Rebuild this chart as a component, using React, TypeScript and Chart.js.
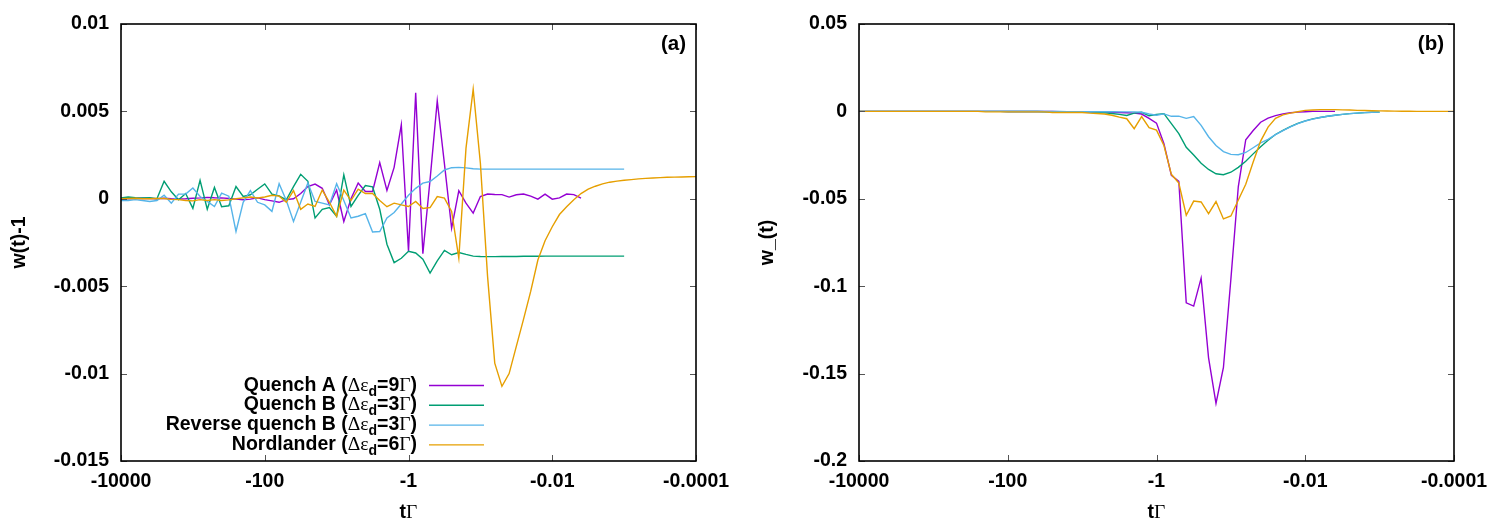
import { useEffect, useRef } from "react";
import { Chart, registerables } from "chart.js";

Chart.register(...registerables);

// Sampling times tΓ (log-spaced, 10 points per decade, from -10^4 to -10^-4)
const T_GRID = [
  -10000, -7943, -6310, -5012, -3981, -3162, -2512, -1995, -1585, -1259,
  -1000, -794.3, -631.0, -501.2, -398.1, -316.2, -251.2, -199.5, -158.5, -125.9,
  -100, -79.43, -63.10, -50.12, -39.81, -31.62, -25.12, -19.95, -15.85, -12.59,
  -10, -7.943, -6.310, -5.012, -3.981, -3.162, -2.512, -1.995, -1.585, -1.259,
  -1, -0.7943, -0.6310, -0.5012, -0.3981, -0.3162, -0.2512, -0.1995, -0.1585, -0.1259,
  -0.1, -0.07943, -0.06310, -0.05012, -0.03981, -0.03162, -0.02512, -0.01995, -0.01585, -0.01259,
  -0.01, -0.007943, -0.006310, -0.005012, -0.003981, -0.003162, -0.002512, -0.001995, -0.001585, -0.001259,
  -0.001, -0.0007943, -0.0006310, -0.0005012, -0.0003981, -0.0003162, -0.0002512, -0.0001995, -0.0001585, -0.0001259,
  -0.0001,
];

// Panel (a): w(t) - 1
const QA_W = [
  0, 0, 0.02e-3, 0.03e-3, 0.02e-3, 0, 0.03e-3, 0, -0.02e-3, 0,
  0.03e-3, 0.05e-3, 0.08e-3, 0.06e-3, 0.05e-3, 0.02e-3, -0.02e-3, -0.05e-3, -0.02e-3, 0.05e-3,
  -0.05e-3, -0.12e-3, -0.2e-3, -0.05e-3, 0, 0.3e-3, 0.7e-3, 0.84e-3, 0.6e-3, -0.35e-3,
  0.5e-3, -1.3e-3, 0, 0.9e-3, 0.42e-3, 0.42e-3, 2.07e-3, 0.48e-3, 1.8e-3, 4.23e-3,
  -3.0e-3, 6.07e-3, -3.14e-3, 1.1e-3, 5.6e-3, 2.0e-3, -1.68e-3, 0.46e-3, -0.25e-3, -0.82e-3,
  0.13e-3, 0.27e-3, 0.25e-3, 0.24e-3, 0.1e-3, 0.23e-3, 0.27e-3, 0.15e-3, -0.02e-3, 0.27e-3,
  -0.02e-3, 0.05e-3, 0.27e-3, 0.24e-3, 0.04e-3,
];
const QB_W = [
  0.05e-3, 0.1e-3, 0.06e-3, 0.05e-3, 0.06e-3, 0, 1.0e-3, 0.4e-3, -0.05e-3, 0.3e-3,
  -0.55e-3, 1.05e-3, -0.6e-3, 0.65e-3, -0.45e-3, -0.4e-3, 0.7e-3, 0.13e-3, 0.23e-3, 0.55e-3,
  0.85e-3, 0.27e-3, 0.17e-3, -0.06e-3, 0.7e-3, 1.4e-3, 1.0e-3, -1.1e-3, -0.6e-3, -0.5e-3,
  -1.0e-3, 1.37e-3, -0.44e-3, 0.2e-3, 0.76e-3, 0.68e-3, -0.6e-3, -2.6e-3, -3.65e-3, -3.4e-3,
  -3.0e-3, -3.1e-3, -3.45e-3, -4.25e-3, -3.55e-3, -2.95e-3, -3.2e-3, -3.07e-3, -3.18e-3, -3.28e-3,
  -3.3e-3, -3.31e-3, -3.31e-3, -3.3e-3, -3.3e-3, -3.3e-3, -3.29e-3, -3.29e-3, -3.29e-3, -3.28e-3,
  -3.28e-3, -3.28e-3, -3.28e-3, -3.28e-3, -3.28e-3, -3.28e-3, -3.28e-3, -3.28e-3, -3.28e-3, -3.28e-3,
  -3.28e-3,
];
const RQB_W = [
  -0.1e-3, -0.1e-3, -0.05e-3, -0.1e-3, -0.15e-3, -0.1e-3, 0.2e-3, -0.25e-3, 0.27e-3, 0.27e-3,
  0.62e-3, 0.13e-3, -0.15e-3, -0.44e-3, 0.32e-3, 0.15e-3, -1.87e-3, -0.2e-3, 0.47e-3, -0.2e-3,
  -0.35e-3, -0.72e-3, 0.86e-3, -0.1e-3, -1.3e-3, -0.2e-3, 0.9e-3, -0.15e-3, -0.25e-3, -0.35e-3,
  0.86e-3, -0.1e-3, -1.1e-3, -1.0e-3, -0.85e-3, -1.9e-3, -1.87e-3, -1.1e-3, -0.78e-3, -0.3e-3,
  0.2e-3, 0.6e-3, 0.9e-3, 0.99e-3, 1.3e-3, 1.65e-3, 1.78e-3, 1.8e-3, 1.77e-3, 1.72e-3,
  1.7e-3, 1.7e-3, 1.7e-3, 1.7e-3, 1.7e-3, 1.7e-3, 1.7e-3, 1.7e-3, 1.7e-3, 1.7e-3,
  1.7e-3, 1.7e-3, 1.7e-3, 1.7e-3, 1.7e-3, 1.7e-3, 1.7e-3, 1.7e-3, 1.7e-3, 1.7e-3,
  1.7e-3,
];
const NORD_W = [
  0, 0.02e-3, 0.03e-3, 0, 0, 0.02e-3, 0.02e-3, -0.03e-3, -0.05e-3, -0.1e-3,
  -0.12e-3, -0.05e-3, -0.1e-3, -0.05e-3, -0.1e-3, -0.06e-3, 0, 0.05e-3, 0.1e-3, 0.05e-3,
  0.1e-3, 0.2e-3, 0.15e-3, -0.2e-3, 0.47e-3, -0.6e-3, -0.3e-3, -0.44e-3, 0.5e-3, -0.2e-3,
  -1.0e-3, 0.5e-3, -0.1e-3, 0.55e-3, 0.3e-3, 0.3e-3, -0.1e-3, -0.45e-3, -0.25e-3, -0.35e-3,
  -0.44e-3, -0.15e-3, -0.55e-3, -0.5e-3, 0.13e-3, 0.04e-3, -0.72e-3, -3.39e-3, 2.9e-3, 6.27e-3,
  2.04e-3, -4.44e-3, -9.4e-3, -10.73e-3, -10.0e-3, -8.44e-3, -6.9e-3, -5.3e-3, -3.5e-3, -2.4e-3,
  -1.6e-3, -0.9e-3, -0.45e-3, -0.05e-3, 0.3e-3, 0.55e-3, 0.72e-3, 0.85e-3, 0.95e-3, 1.01e-3,
  1.06e-3, 1.1e-3, 1.14e-3, 1.17e-3, 1.19e-3, 1.21e-3, 1.23e-3, 1.24e-3, 1.25e-3, 1.26e-3,
  1.27e-3,
];

// Panel (b): w_(t)
const QA_WM = [
  0, 0, 0, 0, 0, 0, 0, 0, 0, 0,
  0, 0, 0, 0, 0, 0, 0, 0, 0, 0,
  -0.01e-2, -0.01e-2, -0.01e-2, -0.01e-2, -0.01e-2, -0.01e-2, -0.01e-2, -0.02e-2, -0.02e-2, -0.02e-2,
  -0.02e-2, -0.03e-2, -0.04e-2, -0.05e-2, -0.05e-2, -0.06e-2, -0.08e-2, -0.1e-2, -0.15e-2, -0.4e-2,
  -0.67e-2, -1.85e-2, -3.66e-2, -4.0e-2, -10.95e-2, -11.14e-2, -9.54e-2, -14.1e-2, -16.7e-2, -14.65e-2,
  -9.6e-2, -4.3e-2, -1.62e-2, -1.09e-2, -0.62e-2, -0.38e-2, -0.24e-2, -0.14e-2, -0.08e-2, -0.04e-2,
  -0.02e-2, 0, 0, 0, 0,
];
const QB_WM = [
  0, 0, 0, 0, 0, 0, 0, 0, 0, 0,
  0, 0, 0, 0, 0, 0, 0, 0, 0, 0,
  -0.01e-2, -0.01e-2, -0.01e-2, -0.01e-2, -0.01e-2, -0.02e-2, -0.02e-2, -0.02e-2, -0.02e-2, -0.02e-2,
  -0.02e-2, -0.03e-2, -0.05e-2, -0.08e-2, -0.12e-2, -0.17e-2, -0.23e-2, -0.1e-2, -0.05e-2, -0.25e-2,
  -0.18e-2, -0.13e-2, -0.7e-2, -1.27e-2, -2.05e-2, -2.5e-2, -2.97e-2, -3.32e-2, -3.57e-2, -3.62e-2,
  -3.48e-2, -3.2e-2, -2.85e-2, -2.43e-2, -2.02e-2, -1.65e-2, -1.32e-2, -1.08e-2, -0.87e-2, -0.68e-2,
  -0.54e-2, -0.43e-2, -0.35e-2, -0.28e-2, -0.22e-2, -0.17e-2, -0.13e-2, -0.1e-2, -0.07e-2, -0.05e-2,
  -0.04e-2,
];
const RQB_WM = [
  0, 0, 0, 0, 0, 0, 0, 0, 0, 0,
  0, 0, 0, 0, 0, 0, 0, 0, 0, 0,
  -0.01e-2, -0.01e-2, -0.01e-2, -0.01e-2, -0.01e-2, -0.01e-2, -0.01e-2, -0.01e-2, -0.02e-2, -0.02e-2,
  -0.02e-2, -0.02e-2, -0.02e-2, -0.02e-2, -0.02e-2, -0.03e-2, -0.03e-2, -0.03e-2, -0.05e-2, -0.15e-2,
  -0.22e-2, -0.14e-2, -0.28e-2, -0.27e-2, -0.4e-2, -0.3e-2, -0.8e-2, -1.45e-2, -1.95e-2, -2.3e-2,
  -2.46e-2, -2.48e-2, -2.35e-2, -2.08e-2, -1.8e-2, -1.6e-2, -1.33e-2, -1.1e-2, -0.88e-2, -0.7e-2,
  -0.55e-2, -0.44e-2, -0.35e-2, -0.28e-2, -0.22e-2, -0.17e-2, -0.13e-2, -0.1e-2, -0.07e-2, -0.05e-2,
  -0.04e-2,
];
const NORD_WM = [
  0, 0, 0, 0, 0, 0, 0, 0, 0, 0,
  0, 0, 0, 0, 0, 0, 0, -0.03e-2, -0.03e-2, -0.03e-2,
  -0.03e-2, -0.03e-2, -0.03e-2, -0.03e-2, -0.03e-2, -0.03e-2, -0.06e-2, -0.06e-2, -0.06e-2, -0.06e-2,
  -0.06e-2, -0.1e-2, -0.12e-2, -0.15e-2, -0.22e-2, -0.33e-2, -0.42e-2, -0.99e-2, -0.3e-2, -0.93e-2,
  -1.07e-2, -1.95e-2, -3.6e-2, -4.1e-2, -5.94e-2, -5.13e-2, -5.18e-2, -5.85e-2, -5.16e-2, -6.15e-2,
  -5.98e-2, -5.07e-2, -4.17e-2, -2.9e-2, -1.7e-2, -0.9e-2, -0.4e-2, -0.2e-2, -0.1e-2, -0.02e-2,
  0.06e-2, 0.08e-2, 0.1e-2, 0.1e-2, 0.1e-2, 0.09e-2, 0.08e-2, 0.06e-2, 0.05e-2, 0.04e-2,
  0.03e-2, 0.02e-2, 0.015e-2, 0.01e-2, 0.005e-2, 0, 0, 0, 0, 0,
  0,
];

const X_TICKS = [10000, 100, 1, 0.01, 0.0001];
const SERIES_NAMES = ["Quench A", "Quench B", "Reverse quench B", "Nordlander"];
const SERIES_DELTAS = ["9", "3", "3", "6"];
const SERIES_COLORS = ["#9400d3", "#009e73", "#56b4e9", "#e69f00"];

const SANS = "'Liberation Sans', Arial, Helvetica, sans-serif";
const SERIF = "'Liberation Serif', 'DejaVu Serif', serif";
const TICK_FONT = { family: SANS, size: 19.5, weight: "bold" as const };

type Seg = { text: string; font: string; dy?: number };

function drawSegments(ctx: CanvasRenderingContext2D, segs: Seg[], x: number, y: number, align: "left" | "right" | "center") {
  let total = 0;
  for (const s of segs) {
    ctx.font = s.font;
    total += ctx.measureText(s.text).width;
  }
  let cx = align === "right" ? x - total : align === "center" ? x - total / 2 : x;
  ctx.textAlign = "left";
  ctx.textBaseline = "alphabetic";
  for (const s of segs) {
    ctx.font = s.font;
    ctx.fillText(s.text, cx, y + (s.dy || 0));
    cx += ctx.measureText(s.text).width;
  }
}

type PanelCfg = {
  series: number[][];
  yMin: number;
  yMax: number;
  yStep: number;
  yTitle: string;
  tag: string;
  axisWidth: number;
  padRight: number;
  yTitleX: number;
  legend: boolean;
};

const PANEL_A: PanelCfg = {
  series: [QA_W, QB_W, RQB_W, NORD_W],
  yMin: -0.015,
  yMax: 0.01,
  yStep: 0.005,
  yTitle: "w(t)-1",
  tag: "(a)",
  axisWidth: 121,
  padRight: 54,
  yTitleX: 25,
  legend: true,
};

const PANEL_B: PanelCfg = {
  series: [QA_WM, QB_WM, RQB_WM, NORD_WM],
  yMin: -0.2,
  yMax: 0.05,
  yStep: 0.05,
  yTitle: "w_(t)",
  tag: "(b)",
  axisWidth: 109,
  padRight: 46,
  yTitleX: 23,
  legend: false,
};

function buildConfig(cfg: PanelCfg): any {
  const decor = {
    id: "decor",
    afterDraw(chart: any) {
      const ctx: CanvasRenderingContext2D = chart.ctx;
      const { left, right, top, bottom } = chart.chartArea;
      const xs = chart.scales.x;
      const ys = chart.scales.y;
      ctx.save();

      // inward tick marks on all four sides
      ctx.strokeStyle = "#555";
      ctx.lineWidth = 1;
      ctx.beginPath();
      for (const t of xs.ticks) {
        const px = Math.round(xs.getPixelForValue(t.value)) + 0.5;
        ctx.moveTo(px, bottom);
        ctx.lineTo(px, bottom - 6);
        ctx.moveTo(px, top);
        ctx.lineTo(px, top + 6);
      }
      for (const t of ys.ticks) {
        const py = Math.round(ys.getPixelForValue(t.value)) + 0.5;
        ctx.moveTo(left, py);
        ctx.lineTo(left + 6, py);
        ctx.moveTo(right, py);
        ctx.lineTo(right - 6, py);
      }
      ctx.stroke();

      // frame
      ctx.strokeStyle = "#000";
      ctx.lineWidth = 1.6;
      ctx.strokeRect(left, top, right - left, bottom - top);

      ctx.fillStyle = "#000";

      // panel tag
      ctx.font = `bold 20.5px ${SANS}`;
      ctx.textAlign = "right";
      ctx.textBaseline = "alphabetic";
      ctx.fillText(cfg.tag, right - 10, top + 26);

      // x axis title
      drawSegments(
        ctx,
        [
          { text: "t", font: `bold 19.5px ${SANS}` },
          { text: "Γ", font: `19.5px ${SERIF}` },
        ],
        (left + right) / 2,
        518,
        "center"
      );

      // y axis title
      ctx.save();
      ctx.translate(cfg.yTitleX, (top + bottom) / 2);
      ctx.rotate(-Math.PI / 2);
      ctx.font = `bold 19.5px ${SANS}`;
      ctx.textAlign = "center";
      ctx.textBaseline = "alphabetic";
      ctx.fillText(cfg.yTitle, 0, 0);
      ctx.restore();

      // key
      if (cfg.legend) {
        const textRight = left + 296;
        for (let i = 0; i < SERIES_NAMES.length; i++) {
          const base = bottom - 70.5 + i * 19.8;
          drawSegments(
            ctx,
            [
              { text: SERIES_NAMES[i] + " (", font: `bold 19.5px ${SANS}` },
              { text: "Δε", font: `19.5px ${SERIF}` },
              { text: "d", font: `bold 14px ${SANS}`, dy: 5 },
              { text: "=" + SERIES_DELTAS[i], font: `bold 19.5px ${SANS}` },
              { text: "Γ", font: `19.5px ${SERIF}` },
              { text: ")", font: `bold 19.5px ${SANS}` },
            ],
            textRight,
            base,
            "right"
          );
          ctx.strokeStyle = SERIES_COLORS[i];
          ctx.lineWidth = 1.4;
          ctx.beginPath();
          ctx.moveTo(left + 308, base - 5);
          ctx.lineTo(left + 363, base - 5);
          ctx.stroke();
        }
      }
      ctx.restore();
    },
  };

  return {
    type: "line",
    data: {
      datasets: cfg.series.map((vals, i) => ({
        label: `${SERIES_NAMES[i]} (Δε_d=${SERIES_DELTAS[i]}Γ)`,
        data: vals.map((v, k) => ({ x: -T_GRID[k], y: v })),
        borderColor: SERIES_COLORS[i],
        backgroundColor: SERIES_COLORS[i],
        borderWidth: 1.4,
        pointRadius: 0,
        pointHoverRadius: 0,
        tension: 0,
        fill: false,
        order: SERIES_NAMES.length - 1 - i,
      })),
    },
    options: {
      responsive: false,
      animation: false,
      devicePixelRatio: 1,
      events: [],
      layout: { padding: { left: 0, right: cfg.padRight, top: 24, bottom: 0 } },
      plugins: { legend: { display: false }, tooltip: { enabled: false }, title: { display: false } },
      scales: {
        x: {
          type: "logarithmic",
          min: 0.0001,
          max: 10000,
          reverse: true,
          afterBuildTicks: (s: any) => {
            s.ticks = X_TICKS.map((v) => ({ value: v }));
          },
          afterFit: (s: any) => {
            s.height = 64;
          },
          ticks: {
            autoSkip: false,
            maxRotation: 0,
            minRotation: 0,
            padding: 9,
            color: "#000",
            font: TICK_FONT,
            callback: (v: any) => "-" + String(v),
          },
          grid: { display: false, drawTicks: false },
          border: { display: false },
        },
        y: {
          type: "linear",
          min: cfg.yMin,
          max: cfg.yMax,
          afterFit: (s: any) => {
            s.width = cfg.axisWidth;
          },
          ticks: {
            stepSize: cfg.yStep,
            padding: 12,
            color: "#000",
            font: TICK_FONT,
            callback: (v: any) => String(Number(Number(v).toFixed(4))),
          },
          grid: { display: false, drawTicks: false },
          border: { display: false },
        },
      },
    },
    plugins: [decor],
  };
}

function Panel({ cfg, left }: { cfg: PanelCfg; left: number }) {
  const ref = useRef<HTMLCanvasElement>(null);
  useEffect(() => {
    if (!ref.current) return;
    const chart = new Chart(ref.current, buildConfig(cfg));
    return () => chart.destroy();
  }, [cfg]);
  return (
    <canvas
      ref={ref}
      width={750}
      height={525}
      style={{ position: "absolute", left, top: 0, width: 750, height: 525 }}
    />
  );
}

export default function App() {
  return (
    <div style={{ position: "fixed", left: 0, top: 0, width: 1500, height: 525, background: "#fff" }}>
      <Panel cfg={PANEL_A} left={0} />
      <Panel cfg={PANEL_B} left={750} />
    </div>
  );
}
